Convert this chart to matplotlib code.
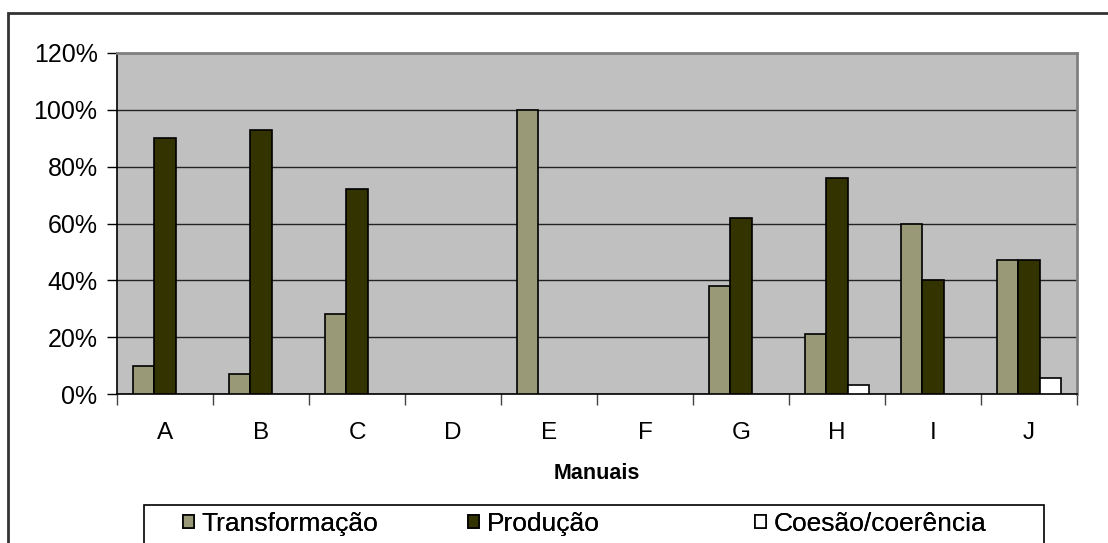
import matplotlib.pyplot as plt
from matplotlib.patches import Rectangle
from matplotlib.ticker import FixedLocator, PercentFormatter
import numpy as np

plt.rcParams['font.family'] = ['Liberation Sans', 'DejaVu Sans']

manuais = ['A', 'B', 'C', 'D', 'E', 'F', 'G', 'H', 'I', 'J']
transformacao = [10, 7, 28, 0, 100, 0, 38, 21, 60, 47]
producao = [90, 93, 72, 0, 0, 0, 62, 76, 40, 47]
coesao = [0, 0, 0, 0, 0, 0, 0, 3, 0, 5.6]

series = [
    ('Transformação', transformacao, '#999977'),
    ('Produção', producao, '#333300'),
    ('Coesão/coerência', coesao, '#ffffff'),
]

W, H = 1108, 543
fig = plt.figure(figsize=(W / 100, H / 100), dpi=100)
ax = fig.add_axes([117 / W, 1 - 394 / H, 960 / W, 341 / H])
ax.set_facecolor('#c0c0c0')

x = np.arange(len(manuais))
w = 0.225
handles = []
for i, (name, vals, col) in enumerate(series):
    vals = np.array(vals)
    shown = vals > 0
    b = ax.bar(x[shown] + (i - 1) * w, vals[shown], w, color=col,
               edgecolor='black', linewidth=1.2, zorder=3, label=name)
    handles.append(b)

ax.set_xlim(-0.5, len(manuais) - 0.5)
ax.set_ylim(0, 120)
ax.set_yticks(range(0, 121, 20))
ax.yaxis.set_major_formatter(PercentFormatter(decimals=0))
ax.yaxis.grid(True, color='#222222', linewidth=1.0, zorder=1)

ax.set_xticks(x)
ax.set_xticklabels(manuais)
ax.xaxis.set_minor_locator(FixedLocator(np.arange(-0.5, len(manuais), 1)))
ax.tick_params(axis='x', which='major', length=0, pad=20, labelsize=17.5)
ax.tick_params(axis='x', which='minor', length=8, width=1, color='#444444')
ax.tick_params(axis='y', length=7, width=1, pad=7, labelsize=18)

for side in ['left', 'bottom']:
    ax.spines[side].set_color('black')
    ax.spines[side].set_linewidth(1.2)
for side in ['top', 'right']:
    ax.spines[side].set_color('#808080')
    ax.spines[side].set_linewidth(2)

ax.set_xlabel('Manuais', fontsize=15.5, fontweight='bold', labelpad=14)

# outer chart frame
fig.patches.append(Rectangle((8 / W, -0.1), 1.2, 1 - 13 / H + 0.1,
                             transform=fig.transFigure, fill=False,
                             edgecolor='#333333', linewidth=2))

# legend frame and its three entries
fig.patches.append(Rectangle((144 / W, -0.1), 900 / W, 0.1 + 1 - 505 / H,
                             transform=fig.transFigure, fill=True,
                             facecolor='white', edgecolor='black',
                             linewidth=1.2, zorder=2))
entry_x = [183, 468, 755]
for h, ex in zip(handles, entry_x):
    leg = fig.legend(handles=[h], loc='center left',
                     bbox_to_anchor=(ex / W, 1 - 524 / H), fontsize=19,
                     frameon=False, handlelength=0.4, handleheight=0.4,
                     handletextpad=0.3, borderpad=0, borderaxespad=0)
    fig.add_artist(leg)

fig.savefig('out.png', dpi=100)
